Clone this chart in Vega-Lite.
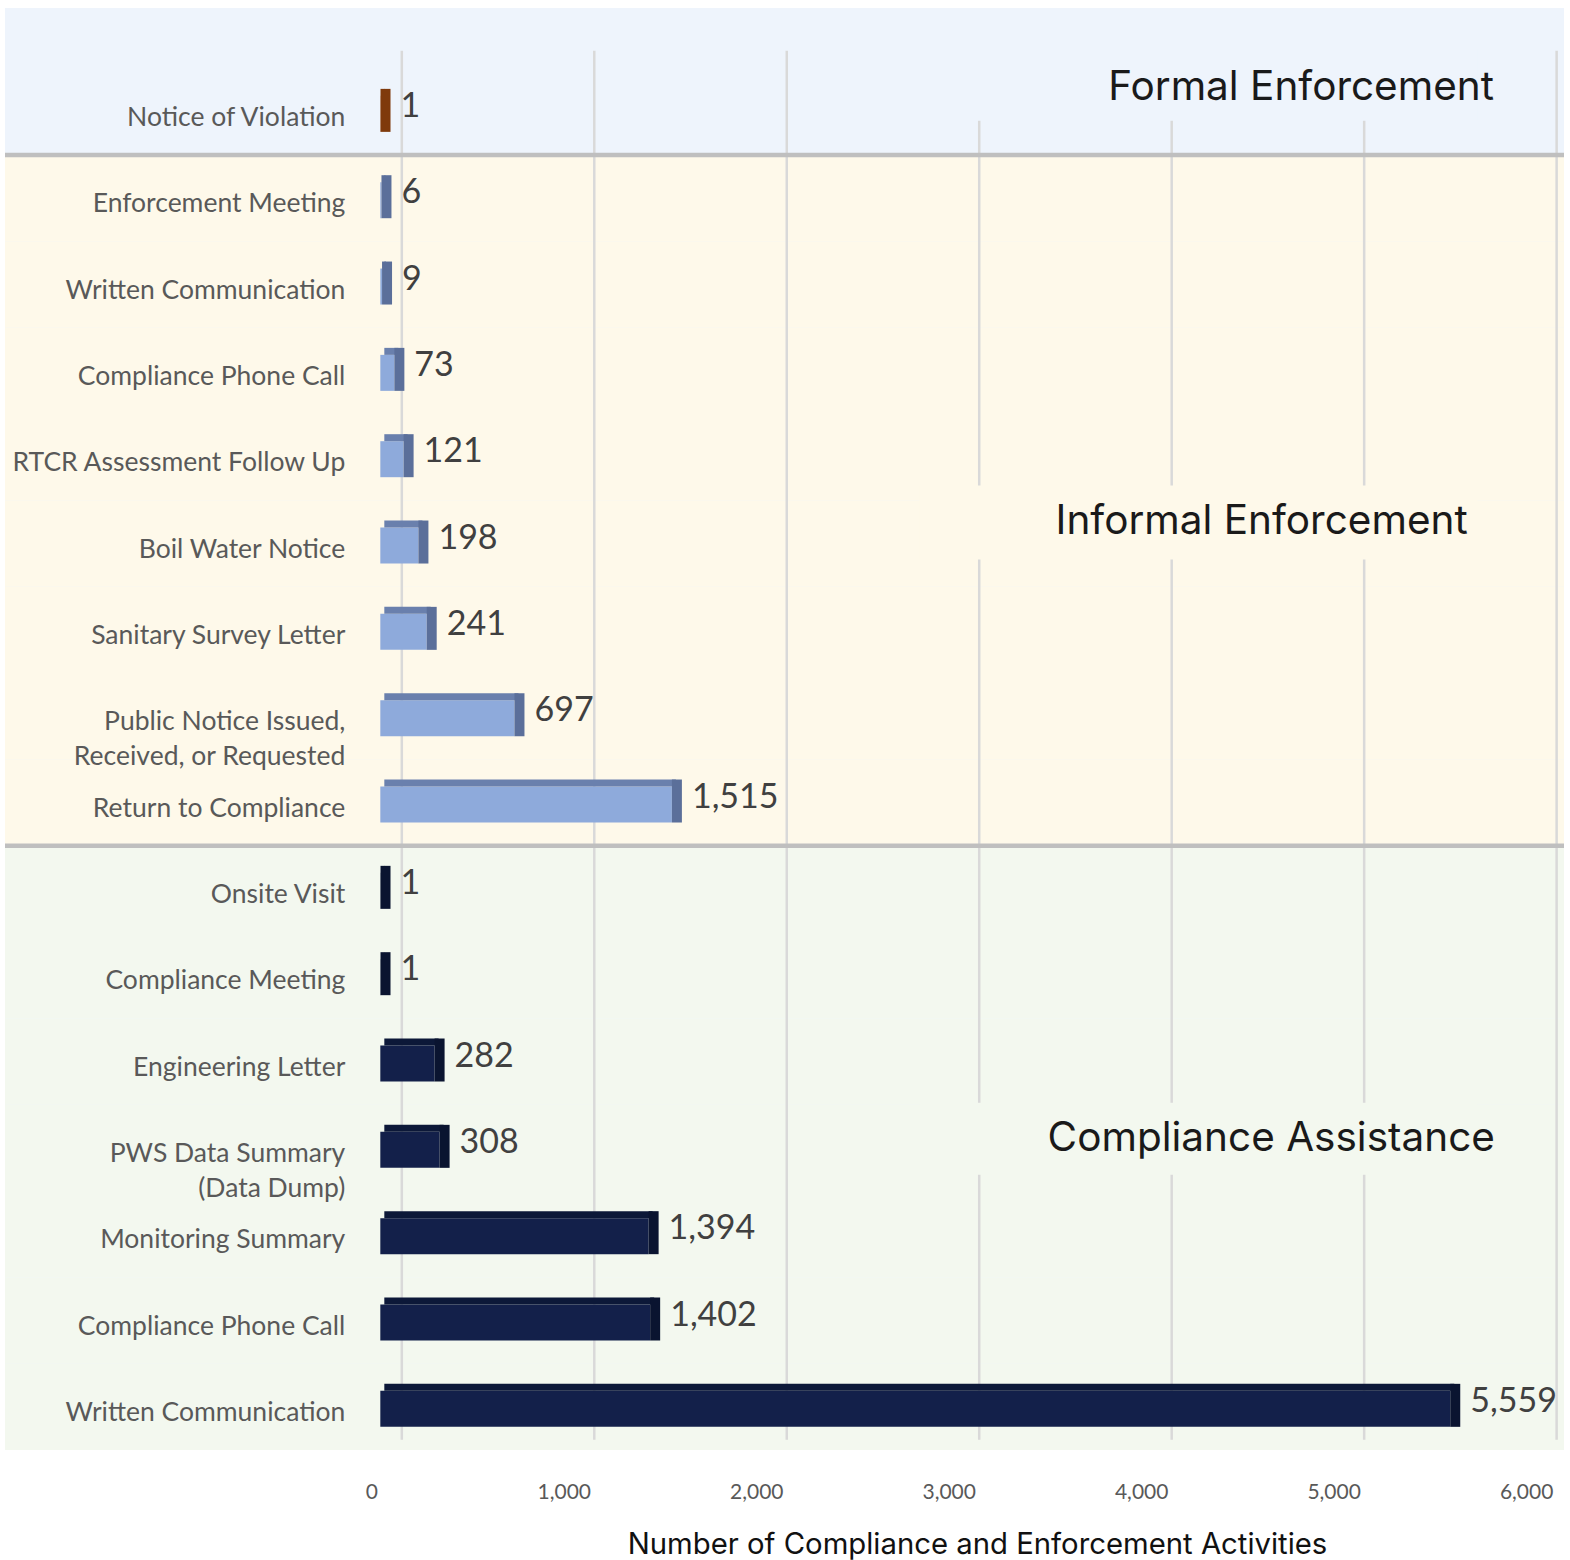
{
  "$schema": "https://vega.github.io/schema/vega-lite/v6.json",
  "autosize": {"type": "none"},
  "width": 1559,
  "height": 1442,
  "padding": {"left": 5, "top": 8, "right": 6, "bottom": 110},
  "background": "#ffffff",
  "config": {
    "view": {"stroke": null, "fill": "#eef4fc"},
    "font": "Lato",
    "axisX": {
      "grid": false,
      "ticks": false,
      "domain": false,
      "labelExpr": "format(datum.value, ',')",
      "labelFont": "Lato",
      "labelFontSize": 21,
      "labelColor": "#595959",
      "labelBaseline": "middle",
      "labelPadding": 42,
      "labelOffset": -9,
      "titleFont": "Inter",
      "titleFontSize": 29.3,
      "titleFontWeight": "normal",
      "titleColor": "#111111",
      "titleAnchor": null,
      "titleAlign": "center",
      "titleBaseline": "middle",
      "titleX": 972,
      "titleY": 94
    }
  },
  "datasets": {
    "acts": [
      {"group": "Formal Enforcement", "activity": "Notice of Violation", "value": 1},
      {"group": "Informal Enforcement", "activity": "Enforcement Meeting", "value": 6},
      {"group": "Informal Enforcement", "activity": "Written Communication", "value": 9},
      {"group": "Informal Enforcement", "activity": "Compliance Phone Call", "value": 73},
      {"group": "Informal Enforcement", "activity": "RTCR Assessment Follow Up", "value": 121},
      {"group": "Informal Enforcement", "activity": "Boil Water Notice", "value": 198},
      {"group": "Informal Enforcement", "activity": "Sanitary Survey Letter", "value": 241},
      {"group": "Informal Enforcement", "activity": "Public Notice Issued,\nReceived, or Requested", "value": 697},
      {"group": "Informal Enforcement", "activity": "Return to Compliance", "value": 1515},
      {"group": "Compliance Assistance", "activity": "Onsite Visit", "value": 1},
      {"group": "Compliance Assistance", "activity": "Compliance Meeting", "value": 1},
      {"group": "Compliance Assistance", "activity": "Engineering Letter", "value": 282},
      {"group": "Compliance Assistance", "activity": "PWS Data Summary\n(Data Dump)", "value": 308},
      {"group": "Compliance Assistance", "activity": "Monitoring Summary", "value": 1394},
      {"group": "Compliance Assistance", "activity": "Compliance Phone Call", "value": 1402},
      {"group": "Compliance Assistance", "activity": "Written Communication", "value": 5559}
    ],
    "ticks": [{"t": 0}, {"t": 1000}, {"t": 2000}, {"t": 3000}, {"t": 4000}, {"t": 5000}, {"t": 6000}],
    "one": [{"n": 1}]
  },
  "data": {"name": "acts"},
  "transform": [{"calculate": "datum.group + '|' + datum.activity", "as": "key"}],
  "resolve": {"scale": {"color": "independent"}},
  "layer": [
    {
      "mark": {"type": "rect"},
      "encoding": {
        "x": {
          "datum": -1950,
          "type": "quantitative",
          "title": "Number of Compliance and Enforcement Activities",
          "scale": {"domain": [-1950, 6150], "nice": false, "zero": false},
          "axis": {
            "values": [0, 1000, 2000, 3000, 4000, 5000, 6000]
          }
        },
        "x2": {"datum": 6150},
        "y": {
          "field": "key",
          "type": "nominal",
          "axis": null,
          "scale": {
            "type": "band",
            "domain": [
              "Formal Enforcement|Notice of Violation",
              "Informal Enforcement|Enforcement Meeting",
              "Informal Enforcement|Written Communication",
              "Informal Enforcement|Compliance Phone Call",
              "Informal Enforcement|RTCR Assessment Follow Up",
              "Informal Enforcement|Boil Water Notice",
              "Informal Enforcement|Sanitary Survey Letter",
              "Informal Enforcement|Public Notice Issued,\nReceived, or Requested",
              "Informal Enforcement|Return to Compliance",
              "Compliance Assistance|Onsite Visit",
              "Compliance Assistance|Compliance Meeting",
              "Compliance Assistance|Engineering Letter",
              "Compliance Assistance|PWS Data Summary\n(Data Dump)",
              "Compliance Assistance|Monitoring Summary",
              "Compliance Assistance|Compliance Phone Call",
              "Compliance Assistance|Written Communication"
            ],
            "paddingInner": 0,
            "paddingOuter": 0.3516,
            "align": 1
          }
        },
        "color": {
          "field": "group",
          "type": "nominal",
          "legend": null,
          "scale": {
            "domain": ["Formal Enforcement", "Informal Enforcement", "Compliance Assistance"],
            "range": ["#eef4fc", "#fef9ea", "#f3f8ef"]
          }
        }
      }
    },
    {
      "data": {"name": "ticks"},
      "mark": {"type": "rule", "color": "#d9d9d9", "strokeWidth": 2.5, "xOffset": 21.5, "yOffset": -18, "y2Offset": 33},
      "encoding": {
        "x": {"field": "t", "type": "quantitative", "title": "Number of Compliance and Enforcement Activities"},
        "y": {"datum": "Formal Enforcement|Notice of Violation", "bandPosition": 0, "axis": null},
        "y2": {"datum": "Compliance Assistance|Written Communication"}
      }
    },
    {
      "data": {"name": "one"},
      "mark": {"type": "rect", "fill": "#eef4fc", "height": 72, "yOffset": -27},
      "encoding": {
        "x": {"datum": 2800, "type": "quantitative", "title": "Number of Compliance and Enforcement Activities"},
        "x2": {"datum": 5700},
        "y": {"datum": "Formal Enforcement|Notice of Violation", "axis": null}
      }
    },
    {
      "data": {"name": "one"},
      "mark": {"type": "rect", "fill": "#fef9ea", "height": 74, "yOffset": -21},
      "encoding": {
        "x": {"datum": 2800, "type": "quantitative", "title": "Number of Compliance and Enforcement Activities"},
        "x2": {"datum": 5700},
        "y": {"datum": "Informal Enforcement|Boil Water Notice", "axis": null}
      }
    },
    {
      "data": {"name": "one"},
      "mark": {"type": "rect", "fill": "#f3f8ef", "height": 72, "yOffset": -9},
      "encoding": {
        "x": {"datum": 2800, "type": "quantitative", "title": "Number of Compliance and Enforcement Activities"},
        "x2": {"datum": 5700},
        "y": {"datum": "Compliance Assistance|PWS Data Summary\n(Data Dump)", "axis": null}
      }
    },
    {
      "transform": [{"filter": "datum.key == 'Informal Enforcement|Enforcement Meeting' || datum.key == 'Compliance Assistance|Onsite Visit'"}],
      "mark": {"type": "rule", "color": "#bfbfbf", "strokeWidth": 4.5},
      "encoding": {
        "y": {"field": "key", "type": "nominal", "bandPosition": 0, "axis": null}
      }
    },
    {
      "mark": {"type": "bar", "height": 36, "yOffset": 2},
      "encoding": {
        "x": {"field": "value", "type": "quantitative", "title": "Number of Compliance and Enforcement Activities"},
        "y": {"field": "key", "type": "nominal", "axis": null},
        "color": {
          "field": "group",
          "type": "nominal",
          "legend": null,
          "scale": {
            "domain": ["Formal Enforcement", "Informal Enforcement", "Compliance Assistance"],
            "range": ["#a0470f", "#8eaadb", "#13204a"]
          }
        }
      }
    },
    {
      "mark": {"type": "bar", "height": 7, "yOffset": -19.5, "xOffset": 4},
      "encoding": {
        "x": {"field": "value", "type": "quantitative", "title": "Number of Compliance and Enforcement Activities"},
        "y": {"field": "key", "type": "nominal", "axis": null},
        "color": {
          "field": "group",
          "type": "nominal",
          "legend": null,
          "scale": {
            "domain": ["Formal Enforcement", "Informal Enforcement", "Compliance Assistance"],
            "range": ["#7f3a0c", "#6a80ad", "#0c1838"]
          }
        }
      }
    },
    {
      "mark": {"type": "tick", "orient": "vertical", "thickness": 10, "size": 43, "xOffset": 5, "yOffset": -1.5, "opacity": 1},
      "encoding": {
        "x": {"field": "value", "type": "quantitative", "title": "Number of Compliance and Enforcement Activities"},
        "y": {"field": "key", "type": "nominal", "axis": null},
        "color": {
          "field": "group",
          "type": "nominal",
          "legend": null,
          "scale": {
            "domain": ["Formal Enforcement", "Informal Enforcement", "Compliance Assistance"],
            "range": ["#7f3a0c", "#5b6f9a", "#0a1430"]
          }
        }
      }
    },
    {
      "mark": {"type": "text", "align": "left", "baseline": "middle", "dx": 20, "dy": -5, "font": "Lato", "fontSize": 34, "fill": "#404040"},
      "encoding": {
        "x": {"field": "value", "type": "quantitative", "title": "Number of Compliance and Enforcement Activities"},
        "y": {"field": "key", "type": "nominal", "axis": null},
        "text": {"field": "value", "type": "quantitative", "format": ","}
      }
    },
    {
      "mark": {"type": "text", "align": "right", "baseline": "middle", "dy": 6, "font": "Lato", "fontSize": 26.5, "fill": "#595959", "lineBreak": "\n", "lineHeight": 35},
      "encoding": {
        "x": {"datum": -182, "type": "quantitative", "title": "Number of Compliance and Enforcement Activities"},
        "y": {"field": "key", "type": "nominal", "axis": null},
        "text": {"field": "activity", "type": "nominal"}
      }
    },
    {
      "data": {"name": "one"},
      "mark": {"type": "text", "align": "center", "baseline": "middle", "dy": -24, "font": "Inter", "fontSize": 40.5, "fill": "#1a1a1a"},
      "encoding": {
        "x": {"datum": 4784, "type": "quantitative", "title": "Number of Compliance and Enforcement Activities"},
        "y": {"datum": "Formal Enforcement|Notice of Violation", "axis": null},
        "text": {"value": "Formal Enforcement"}
      }
    },
    {
      "data": {"name": "one"},
      "mark": {"type": "text", "align": "center", "baseline": "middle", "dy": -21.6, "font": "Inter", "fontSize": 40.5, "fill": "#1a1a1a"},
      "encoding": {
        "x": {"datum": 4579, "type": "quantitative", "title": "Number of Compliance and Enforcement Activities"},
        "y": {"datum": "Informal Enforcement|Boil Water Notice", "axis": null},
        "text": {"value": "Informal Enforcement"}
      }
    },
    {
      "data": {"name": "one"},
      "mark": {"type": "text", "align": "center", "baseline": "middle", "dy": -9, "font": "Inter", "fontSize": 40.5, "fill": "#1a1a1a"},
      "encoding": {
        "x": {"datum": 4629, "type": "quantitative", "title": "Number of Compliance and Enforcement Activities"},
        "y": {"datum": "Compliance Assistance|PWS Data Summary\n(Data Dump)", "axis": null},
        "text": {"value": "Compliance Assistance"}
      }
    }
  ]
}
